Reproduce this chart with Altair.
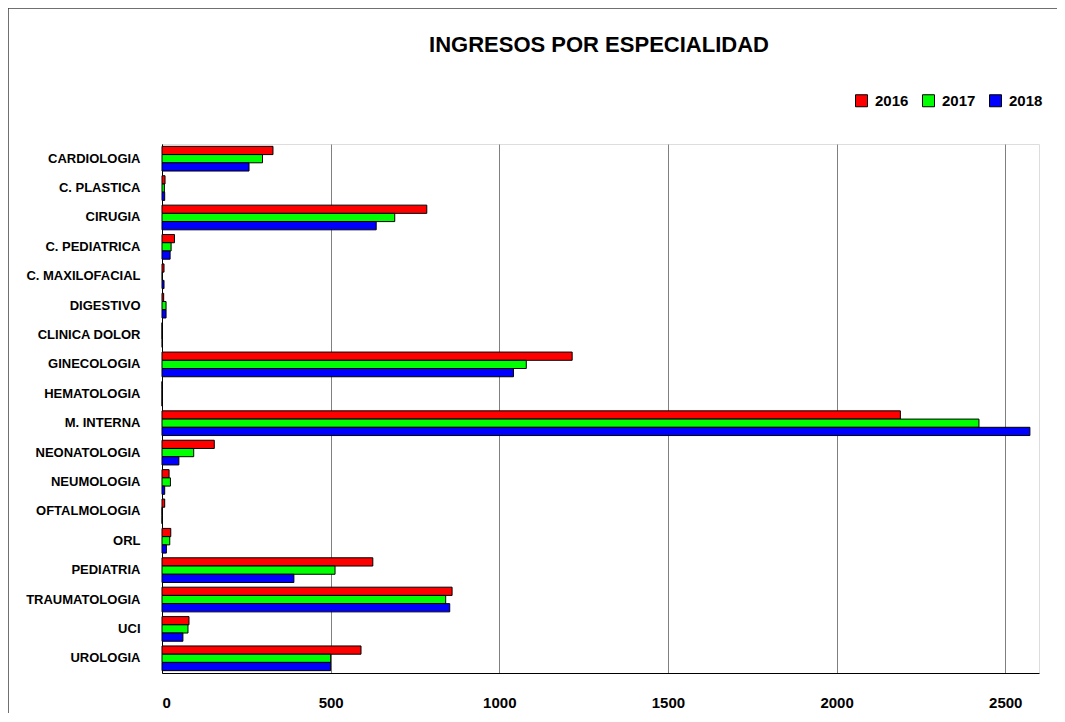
import altair as alt
import pandas as pd

categories = ["CARDIOLOGIA", "C. PLASTICA", "CIRUGIA", "C. PEDIATRICA", "C. MAXILOFACIAL",
              "DIGESTIVO", "CLINICA DOLOR", "GINECOLOGIA", "HEMATOLOGIA", "M. INTERNA",
              "NEONATOLOGIA", "NEUMOLOGIA", "OFTALMOLOGIA", "ORL", "PEDIATRIA",
              "TRAUMATOLOGIA", "UCI", "UROLOGIA"]
years = ["2016", "2017", "2018"]
v2016 = [329, 9, 785, 37, 6, 5, 0, 1216, 0, 2189, 155, 21, 8, 26, 625, 860, 80, 590]
v2017 = [298, 7, 690, 27, 1, 12, 0, 1080, 0, 2422, 94, 25, 0, 23, 513, 841, 77, 500]
v2018 = [258, 8, 635, 24, 6, 12, 1, 1042, 0, 2573, 50, 8, 0, 13, 391, 853, 62, 500]
tick_values = [0, 500, 1000, 1500, 2000, 2500]
colors = ["#FF0000", "#00FF00", "#0000FF"]
title_text = "INGRESOS POR ESPECIALIDAD"

rows = []
for i, c in enumerate(categories):
    for y, vals in zip(years, [v2016, v2017, v2018]):
        rows.append({"cat": c, "year": y, "value": vals[i]})
df = pd.DataFrame(rows)

FONT = "Liberation Sans"

bars = alt.Chart(df).mark_bar(stroke="black", strokeWidth=1).encode(
    y=alt.Y("cat:N", sort=categories, title=None,
            scale=alt.Scale(paddingInner=0.16, paddingOuter=0.08),
            axis=alt.Axis(ticks=False, labelFontSize=13, labelFontWeight="bold", labelPadding=22,
                          labelFont=FONT, labelColor="black", domainColor="black", grid=False)),
    yOffset=alt.YOffset("year:N", sort=years, scale=alt.Scale(paddingInner=0, paddingOuter=0)),
    x=alt.X("value:Q", title=None, scale=alt.Scale(domain=[0, 2600], nice=False),
            axis=alt.Axis(values=tick_values, ticks=False, grid=True, gridColor="#808080",
                          gridWidth=1, labelFontSize=15, labelFontWeight="bold", labelPadding=22,
                          labelFont=FONT, labelColor="black", domainColor="black", format="d")),
    color=alt.Color("year:N", scale=alt.Scale(domain=years, range=colors),
                    legend=alt.Legend(title=None, orient="none", legendX=692, legendY=-51,
                                      direction="horizontal", symbolType="square", symbolSize=144,
                                      symbolStrokeColor="black", symbolStrokeWidth=1,
                                      labelFontSize=15, labelFontWeight="bold", labelFont=FONT,
                                      labelColor="black", labelOffset=6, columnPadding=11)),
)

frame_df = pd.DataFrame({"k": [0]})
top_line = alt.Chart(frame_df).mark_rule(color="#404040", strokeWidth=1.5).encode(
    x=alt.value(-154), x2=alt.value(895), y=alt.value(-136), y2=alt.value(-136))
left_line = alt.Chart(frame_df).mark_rule(color="#404040", strokeWidth=1.5).encode(
    x=alt.value(-154), x2=alt.value(-154), y=alt.value(-136), y2=alt.value(580))

title_df = pd.DataFrame({"t": [title_text]})
title = alt.Chart(title_df).mark_text(fontSize=22, fontWeight="bold", font=FONT, color="black",
                                      align="center", baseline="middle").encode(
    text="t:N", x=alt.value(437), y=alt.value(-99))

chart = alt.layer(bars, top_line, left_line, title).properties(
    width=877, height=529,
    autosize=alt.AutoSizeParams(type="none"),
    padding={"left": 154, "top": 136, "right": 18, "bottom": 40},
).configure_view(stroke="black", strokeWidth=1).configure(background="white")

chart.save("out.html", embed_options={"renderer": "svg", "actions": False})
